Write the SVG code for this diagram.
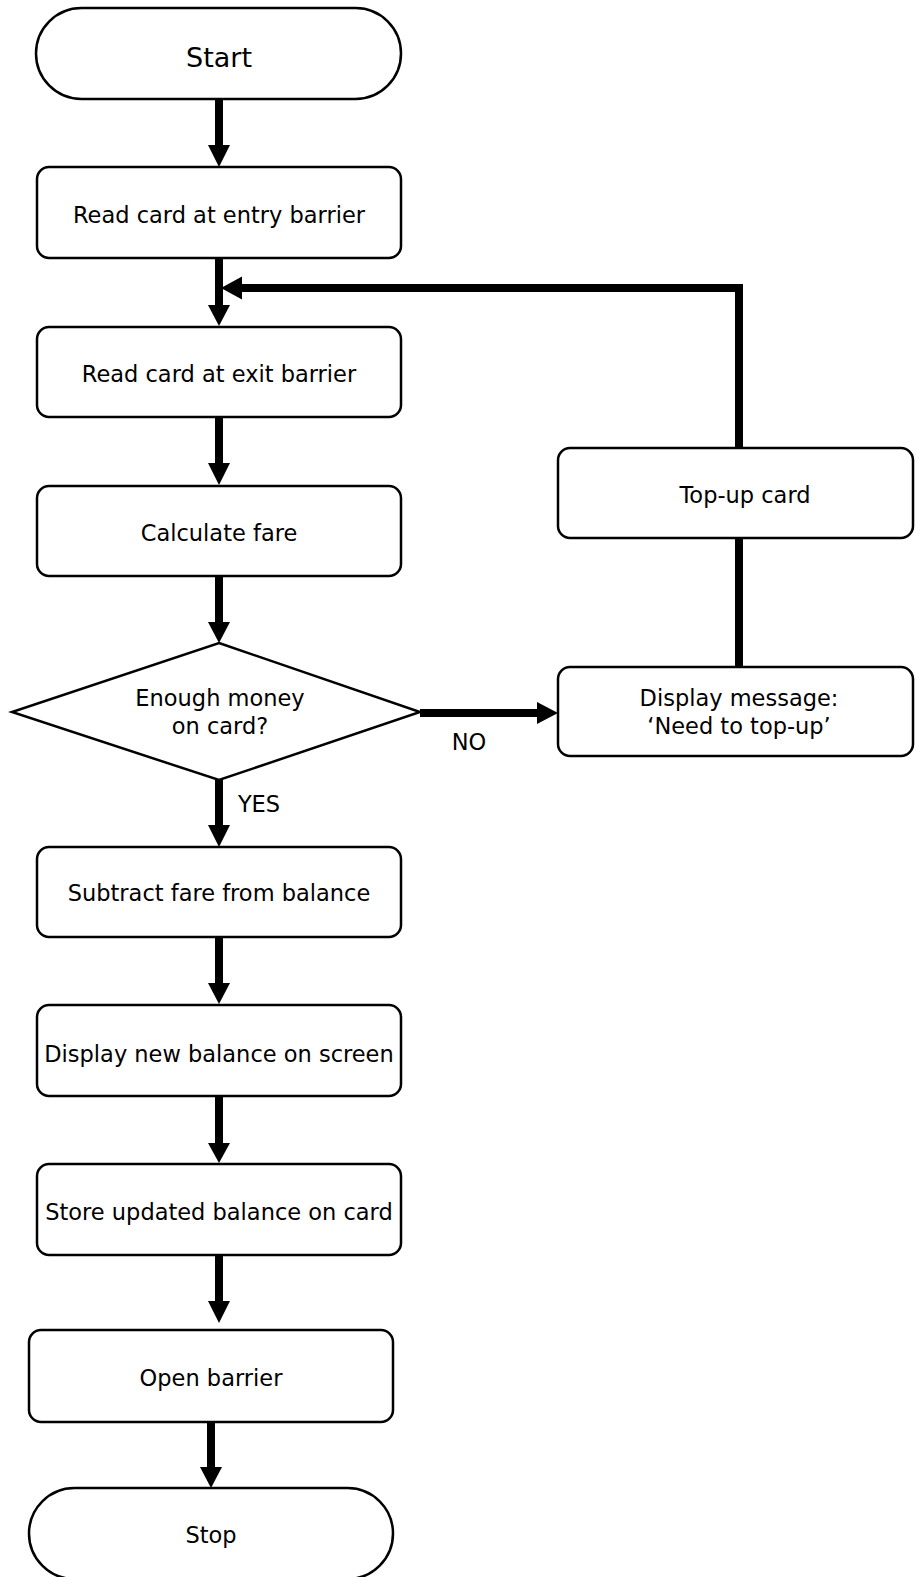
<svg xmlns="http://www.w3.org/2000/svg" width="915" height="1577" viewBox="0 0 915 1577">
<style>
.box{fill:#fff;stroke:#000;stroke-width:2.5}
.t{font-family:"DejaVu Sans",Verdana,sans-serif;font-size:22.5px;fill:#000;text-anchor:middle}
.big{font-size:27px}
.c{fill:none;stroke:#000;stroke-width:8;stroke-linejoin:miter;stroke-linecap:butt}
.h{fill:#000;stroke:none}
</style>
<rect width="915" height="1577" fill="#fff"/>
<g id="connectors">
<path class="c" d="M219 99V146"/><path class="h" d="M208 145H230L219 167Z"/>
<path class="c" d="M219 258V306"/><path class="h" d="M208 305H230L219 326Z"/>
<path class="c" d="M739 448V288H241"/><path class="h" d="M242 276.5V299.5L221 288Z"/>
<path class="c" d="M219 417V464"/><path class="h" d="M208 463H230L219 485Z"/>
<path class="c" d="M219 576V623"/><path class="h" d="M208 622H230L219 643Z"/>
<path class="c" d="M420 713H538"/><path class="h" d="M537 702V724L558 713Z"/>
<path class="c" d="M739 667V538"/>
<path class="c" d="M219 780V826"/><path class="h" d="M208 825H230L219 847Z"/>
<path class="c" d="M219 937V984"/><path class="h" d="M208 983H230L219 1004Z"/>
<path class="c" d="M219 1096V1144"/><path class="h" d="M208 1143H230L219 1163Z"/>
<path class="c" d="M219 1255V1302"/><path class="h" d="M208 1301H230L219 1323Z"/>
<path class="c" d="M211 1422V1468"/><path class="h" d="M200 1467H222L211 1488Z"/>
</g>
<g id="start"><rect class="box" x="36" y="8" width="365" height="91" rx="45.5"/><text class="t big" x="219" y="67">Start</text></g>
<g id="entry"><rect class="box" x="37" y="167" width="364" height="91" rx="12"/><text class="t" x="219" y="223">Read card at entry barrier</text></g>
<g id="exit"><rect class="box" x="37" y="327" width="364" height="90" rx="12"/><text class="t" x="219" y="382">Read card at exit barrier</text></g>
<g id="calc"><rect class="box" x="37" y="486" width="364" height="90" rx="12"/><text class="t" x="219" y="541">Calculate fare</text></g>
<g id="decision"><polygon class="box" points="219,643 420,712 219,780 12,712"/><text class="t" x="220" y="706">Enough money</text><text class="t" x="220" y="734">on card?</text></g>
<g id="labels"><text class="t" x="469" y="750">NO</text><text class="t" x="259" y="812">YES</text></g>
<g id="topup"><rect class="box" x="558" y="448" width="355" height="90" rx="12"/><text class="t" x="745" y="503">Top-up card</text></g>
<g id="msg"><rect class="box" x="558" y="667" width="355" height="89" rx="12"/><text class="t" x="739" y="706">Display message:</text><text class="t" x="739" y="734">‘Need to top-up’</text></g>
<g id="subtract"><rect class="box" x="37" y="847" width="364" height="90" rx="12"/><text class="t" x="219" y="901">Subtract fare from balance</text></g>
<g id="shownew"><rect class="box" x="37" y="1005" width="364" height="91" rx="12"/><text class="t" x="219" y="1062">Display new balance on screen</text></g>
<g id="store"><rect class="box" x="37" y="1164" width="364" height="91" rx="12"/><text class="t" x="219" y="1220">Store updated balance on card</text></g>
<g id="open"><rect class="box" x="29" y="1330" width="364" height="92" rx="12"/><text class="t" x="211" y="1386">Open barrier</text></g>
<g id="stop"><rect class="box" x="29" y="1488" width="364" height="91" rx="45.5"/><text class="t" x="211" y="1543">Stop</text></g>
</svg>
